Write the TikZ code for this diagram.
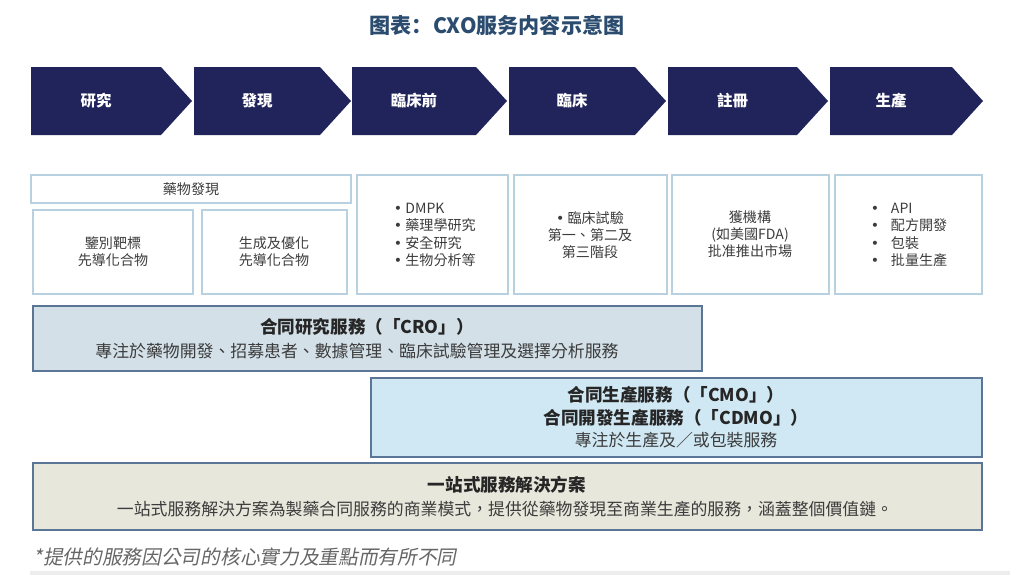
\documentclass[tikz,border=0pt]{standalone}
\usepackage{fontspec}
\setmainfont{Noto Sans CJK TC}
\newfontfamily\titlefont{Noto Sans CJK SC}
\newfontfamily\notefont[FakeSlant=0.2]{Noto Sans CJK TC}
\newfontfamily\bulletfont{DejaVu Sans}
\newcommand{\listbullet}{{\bulletfont •}}

\definecolor{navy}{HTML}{20245A}
\definecolor{titleblue}{HTML}{2B4C6F}
\definecolor{lightframe}{HTML}{B7D1E0}
\definecolor{darkframe}{HTML}{5B7596}
\definecolor{crofill}{HTML}{D3E0E8}
\definecolor{cmofill}{HTML}{D0E8F3}
\definecolor{onefill}{HTML}{E8E7DC}
\definecolor{bodygray}{HTML}{3C3C3C}

\tikzset{
  chevtext/.style={text=white, font=\fontsize{11}{13}\selectfont\bfseries},
  topbox/.style={draw=lightframe, line width=1.1pt},
  toptext/.style={text=bodygray, align=center, font=\fontsize{10}{12.2}\selectfont},
  bigbox/.style={draw=darkframe, line width=1.4pt},
  headtext/.style={text=black!85, font=\fontsize{12.5}{16.5}\selectfont\bfseries},
  desctext/.style={text=bodygray, font=\fontsize{12}{14}\selectfont}
}

\begin{document}
\begin{tikzpicture}[x=0.025cm, y=-0.025cm]
  \useasboundingbox (0,0) rectangle (1010,575);
  \node[text=titleblue, font=\titlefont\fontsize{15}{18}\selectfont\bfseries] (title) at (497,25) {图表：CXO服务内容示意图};

  % stages
  \foreach \l/\r/\name/\txt in {31/192/research/研究, 194/351/discovery/發現, 352/507/preclin/臨床前,
      509/666/clinic/臨床, 668/828/register/註冊, 830/983/produce/生產} {
    \fill[navy] (\l,67) -- (\r-31,67) -- (\r,101) -- (\r-31,135) -- (\l,135) -- cycle;
    \node[chevtext] (\name) at ({(\l+\r-31)/2},101) {\txt};
  }

  % service boxes
  \draw[topbox] (31,175) rectangle (351,203);
  \node[toptext] (drug) at (191,189) {藥物發現};
  \draw[topbox] (33,210) rectangle (193,294);
  \node[toptext] (target) at (113,252) {鑒別靶標\\先導化合物};
  \draw[topbox] (202,210) rectangle (347,294);
  \node[toptext] (lead) at (274,252) {生成及優化\\先導化合物};
  \draw[topbox] (357,175) rectangle (508,294);
  \node[toptext, align=left, anchor=west] (dmpk) at (389,235)
    {\listbullet\ DMPK\\\listbullet\ 藥理學研究\\\listbullet\ 安全研究\\\listbullet\ 生物分析等};
  \draw[topbox] (514,175) rectangle (667,294);
  \node[toptext] (trial) at (590,235) {\listbullet\ 臨床試驗\\第一、第二及\\第三階段};
  \draw[topbox] (672,175) rectangle (829,294);
  \node[toptext] (fda) at (750,234) {獲機構\\(如美國FDA)\\批准推出市場};
  \draw[topbox] (835,175) rectangle (982,294);
  \node[toptext, align=left, anchor=west] (api) at (866,235)
    {\makebox[0.5cm][l]{\listbullet}API\\\makebox[0.5cm][l]{\listbullet}配方開發\\\makebox[0.5cm][l]{\listbullet}包裝\\\makebox[0.5cm][l]{\listbullet}批量生產};

  % CRO
  \draw[bigbox, fill=crofill] (33,306) rectangle (702,371);
  \node[headtext] (cro) at (367,327) {合同研究服務（「CRO」）};
  \node[desctext] (crodesc) at (357,351) {專注於藥物開發、招募患者、數據管理、臨床試驗管理及選擇分析服務};

  % CMO / CDMO
  \draw[bigbox, fill=cmofill] (371,378) rectangle (982,457);
  \node[headtext] (cmo) at (676,395) {合同生產服務（「CMO」）};
  \node[headtext] (cdmo) at (676,418) {合同開發生產服務（「CDMO」）};
  \node[desctext] (cmodesc) at (676,440) {專注於生產及／或包裝服務};

  % one-stop
  \draw[bigbox, fill=onefill] (33,463) rectangle (982,530);
  \node[headtext] (onestop) at (507,485) {一站式服務解決方案};
  \node[desctext] (onedesc) at (505,509) {一站式服務解決方案為製藥合同服務的商業模式，提供從藥物發現至商業生產的服務，涵蓋整個價值鏈。};

  \node[anchor=west, text=black!60, font=\notefont\fontsize{14}{16}\selectfont] (note) at (29,557) {*提供的服務因公司的核心實力及重點而有所不同};
  \fill[black!7] (30,571) rectangle (1010,575);
\end{tikzpicture}
\end{document}
